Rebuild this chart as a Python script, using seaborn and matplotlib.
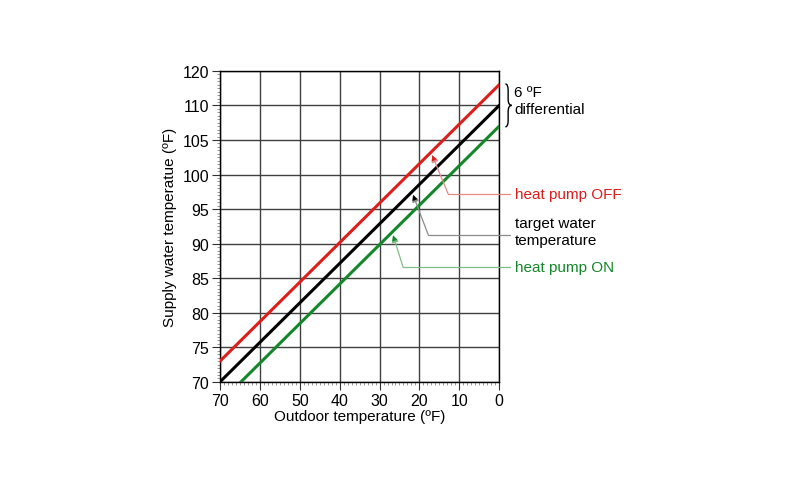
import numpy as np
import pandas as pd
import matplotlib
matplotlib.use("Agg")
import matplotlib.pyplot as plt
import matplotlib.ticker as mticker
from matplotlib.path import Path
from matplotlib.patches import PathPatch
import seaborn as sns

# ── Data ─────────────────────────────────────────────────────────────────────

outdoor_temp = [70, 0]
target_temp = [70, 110]
heat_pump_off = [73, 113]
heat_pump_on = [67, 107]

series_names = ["heat pump OFF", "target water\ntemperature", "heat pump ON"]
series_colors = ["#dd1f1c", "#000000", "#14872a"]
leader_colors = ["#e58a86", "#8c8c8c", "#7fbf86"]

y_ticks = [70, 75, 80, 85, 90, 95, 100, 105, 110, 115]
y_tick_labels = ["70", "75", "80", "85", "90", "95", "100", "105", "110", "120"]
x_ticks = [70, 60, 50, 40, 30, 20, 10, 0]

# where each arrow hits its line (outdoor temp) and the leader elbow
arrow_x = [16.8, 21.6, 26.6]
elbow = [(12.8, 97.2), (17.8, 91.3), (24.1, 86.6)]

df = pd.DataFrame({
    "outdoor": outdoor_temp * 3,
    "supply": heat_pump_off + target_temp + heat_pump_on,
    "series": [series_names[0]] * 2 + [series_names[1]] * 2 + [series_names[2]] * 2,
})

# ── Plot ─────────────────────────────────────────────────────────────────────

sns.set_style("white")
plt.rcParams["font.family"] = ["Liberation Sans", "DejaVu Sans"]
plt.rcParams["text.color"] = "black"
plt.rcParams["axes.labelcolor"] = "black"
plt.rcParams["xtick.color"] = "black"
plt.rcParams["ytick.color"] = "black"

fig = plt.figure(figsize=(8, 4.89), dpi=100)
ax = fig.add_axes([0.275, 0.217, 0.349, 0.636])

sns.lineplot(data=df, x="outdoor", y="supply", hue="series",
             palette=dict(zip(series_names, series_colors)),
             linewidth=2.2, legend=False, ax=ax, zorder=3)

ax.set_xlim(70, 0)
ax.set_ylim(70, 115)
ax.set_xticks(x_ticks)
ax.set_xticklabels([str(v) for v in x_ticks])
ax.set_yticks(y_ticks)
ax.set_yticklabels(y_tick_labels)
ax.xaxis.set_minor_locator(mticker.MultipleLocator(1))
ax.yaxis.set_minor_locator(mticker.MultipleLocator(0.5))

ax.grid(True, which="major", color="#404040", linewidth=1.0)
ax.tick_params(which="major", direction="out", length=6, width=0.8,
               color="#333333", labelsize=11.5, pad=2,
               bottom=True, left=True)
ax.tick_params(which="minor", direction="out", length=2.5, width=0.6,
               color="#888888", bottom=True, left=True)
for sp in ax.spines.values():
    sp.set_color("black")
    sp.set_linewidth(1.0)

ax.set_xlabel("Outdoor temperature (ºF)", fontsize=11, labelpad=1)
ax.set_ylabel("Supply water temperatue (ºF)", fontsize=11, labelpad=4)

# ── Annotations ──────────────────────────────────────────────────────────────

lines = [heat_pump_off, target_temp, heat_pump_on]
text_x = -4.0
leader_end = -2.8
for name, col, lcol, ax_x, (ex, ey), vals in zip(
        series_names, series_colors, leader_colors, arrow_x, elbow, lines):
    tip_y = np.interp(ax_x, outdoor_temp[::-1], vals[::-1]) - 0.6
    ax.plot([leader_end, ex], [ey, ey], color=lcol, lw=0.9, clip_on=False, zorder=4)
    ax.annotate("", xy=(ax_x, tip_y), xytext=(ex, ey),
                arrowprops=dict(arrowstyle="-|>", color=lcol, lw=0.9,
                                mutation_scale=10, shrinkA=0, shrinkB=0),
                annotation_clip=False, zorder=4)
    # arrow head in the series colour
    ax.annotate("", xy=(ax_x, tip_y), xytext=(ax_x - (ax_x - ex) * 0.25,
                                            tip_y - (tip_y - ey) * 0.25),
                arrowprops=dict(arrowstyle="-|>", color=col, lw=0.01,
                                mutation_scale=10, shrinkA=0, shrinkB=0),
                annotation_clip=False, zorder=5)
    ax.text(text_x, ey + (0.45 if "\n" in name else 0), name, color=col,
            fontsize=11, ha="left", va="center", linespacing=1.25, clip_on=False)

# brace for the differential
x0, x1, x2 = 1.022, 1.032, 1.045
yt, ym, yb = 0.958, 0.889, 0.820
d = 0.02
verts = [(x0, yt), (x1, yt), (x1, yt - d), (x1, ym + d), (x1, ym), (x2, ym),
         (x1, ym), (x1, ym - d), (x1, yb + d), (x1, yb), (x0, yb)]
codes = [Path.MOVETO, Path.CURVE3, Path.CURVE3, Path.LINETO, Path.CURVE3, Path.CURVE3,
         Path.CURVE3, Path.CURVE3, Path.LINETO, Path.CURVE3, Path.CURVE3]
ax.add_patch(PathPatch(Path(verts, codes), transform=ax.transAxes, fill=False,
                       lw=1.0, color="black", clip_on=False))
ax.text(1.053, 0.905, "6 ºF\ndifferential", transform=ax.transAxes,
        fontsize=11, ha="left", va="center", linespacing=1.25)

fig.savefig("out.png", dpi=100)
